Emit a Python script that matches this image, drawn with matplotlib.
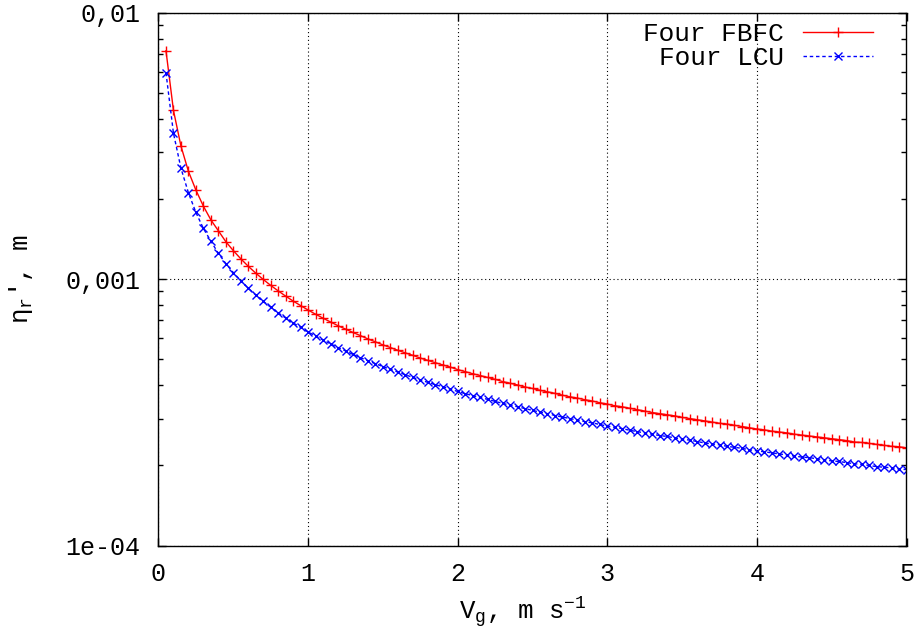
import numpy as np
import matplotlib
matplotlib.use('Agg')
import matplotlib.pyplot as plt
from matplotlib.ticker import FixedLocator, FixedFormatter, NullFormatter

plt.rcParams['font.family'] = ['Liberation Mono', 'DejaVu Sans']
plt.rcParams['mathtext.default'] = 'regular'

# vitesse du gaz, pas de 0.05 m/s
vg = np.arange(1, 101) * 0.05

# eta_r en unites de 1e-5 m
fbfc = [720, 430, 316, 254, 216, 188, 167, 152, 138.3, 128.0,
        119.3, 111.8, 105.4, 99.8, 94.8, 90.4, 86.4, 82.8, 79.6, 76.6,
        73.9, 71.4, 69.1, 66.9, 65.0, 63.1, 61.4, 59.7, 58.2, 56.7,
        55.4, 54.1, 52.9, 51.8, 50.6, 49.6, 48.6, 47.7, 46.8, 45.8,
        45.0, 44.2, 43.5, 42.8, 42.1, 41.3, 40.7, 40.1, 39.4, 38.9,
        38.3, 37.8, 37.3, 36.7, 36.2, 35.8, 35.3, 34.9, 34.4, 34.0,
        33.5, 33.2, 32.8, 32.4, 32.0, 31.6, 31.3, 31.0, 30.7, 30.3,
        30.0, 29.7, 29.4, 29.1, 28.8, 28.6, 28.3, 28.0, 27.7, 27.4,
        27.2, 26.9, 26.7, 26.5, 26.2, 26.0, 25.8, 25.6, 25.4, 25.2,
        25.0, 24.8, 24.5, 24.4, 24.2, 24.0, 23.8, 23.6, 23.5, 23.3]

lcu = [595, 353, 261, 211, 178, 155, 139, 125, 114.5, 105.9,
       98.7, 92.5, 87.2, 82.6, 78.5, 74.8, 71.5, 68.6, 65.9, 63.4,
       61.2, 59.1, 57.2, 55.4, 53.8, 52.2, 50.8, 49.4, 48.2, 47.0,
       45.9, 44.8, 43.8, 42.8, 41.9, 41.0, 40.2, 39.5, 38.7, 37.9,
       37.2, 36.6, 36.0, 35.4, 34.8, 34.2, 33.7, 33.2, 32.7, 32.2,
       31.7, 31.3, 30.8, 30.4, 30.0, 29.6, 29.2, 28.9, 28.5, 28.1,
       27.8, 27.5, 27.1, 26.8, 26.5, 26.2, 25.9, 25.7, 25.4, 25.1,
       24.9, 24.6, 24.3, 24.1, 23.9, 23.6, 23.4, 23.2, 22.9, 22.7,
       22.5, 22.3, 22.1, 21.9, 21.7, 21.5, 21.4, 21.2, 21.0, 20.8,
       20.7, 20.5, 20.3, 20.2, 20.0, 19.8, 19.7, 19.6, 19.4, 19.3]

yticks = [1e-4, 1e-3, 1e-2]
ytick_labels = ['1e-04', '0,001', '0,01']
xticks = [0, 1, 2, 3, 4, 5]

fig = plt.figure(figsize=(9.2, 6.37), dpi=100)
ax = fig.add_axes([158.5/920, 1 - 545.7/637, 748/920, 533/637])

ax.plot(vg, np.array(fbfc)*1e-5, color='red', lw=1, marker='+', ms=7.5, mew=1,
        label='Four FBFC')
ax.plot(vg, np.array(lcu)*1e-5, color='blue', lw=1, ls=(0, (2.5, 2)),
        marker='x', ms=6, mew=1, label='Four LCU')

ax.set_yscale('log')
ax.set_xlim(0, 5)
ax.set_ylim(1e-4, 1e-2)

ax.yaxis.set_major_locator(FixedLocator(yticks))
ax.yaxis.set_major_formatter(FixedFormatter(ytick_labels))
ax.yaxis.set_minor_locator(FixedLocator(
    [m*10.0**e for e in (-4, -3) for m in range(2, 10)]))
ax.yaxis.set_minor_formatter(NullFormatter())
ax.set_xticks(xticks)
ax.set_xticklabels([str(v) for v in xticks])

ax.tick_params(which='both', direction='in', top=True, right=True,
               labelsize=18, width=1, color='black')
ax.tick_params(which='major', length=6)
ax.tick_params(which='minor', length=3.6)
ax.tick_params(axis='y', pad=13)
ax.tick_params(axis='x', pad=12)

ax.grid(True, which='major', color='black', lw=0.8, ls=(0, (1, 2.5)))
for s in ax.spines.values():
    s.set_linewidth(1)

ax.set_xlabel('V$_\\mathregular{g}$, m s$^\\mathregular{-1}$', fontsize=18.5)
ax.xaxis.set_label_coords(0.487, -0.094)
ax.set_ylabel("η$_\\mathregular{r}$', m", fontsize=18.5)
ax.yaxis.set_label_coords(-0.165, 0.5)

ax.legend(loc='upper right', bbox_to_anchor=(0.9553, 0.982), frameon=False,
          markerfirst=False, numpoints=1, fontsize=18.8, handlelength=2.7,
          handletextpad=0.72, labelspacing=0.0, borderpad=0, borderaxespad=0)

fig.savefig('out.png', dpi=100)
